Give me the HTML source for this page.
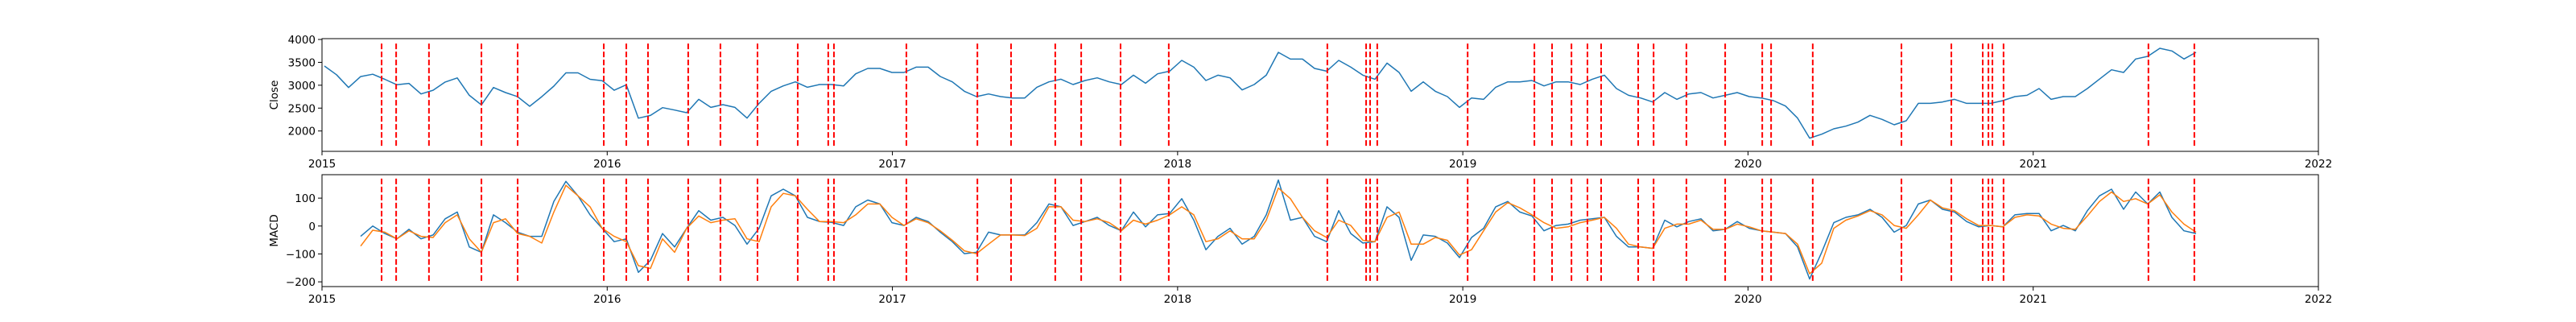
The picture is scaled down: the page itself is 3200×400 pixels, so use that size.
<!DOCTYPE html>
<html><head><meta charset="utf-8">
<style>
html,body{margin:0;padding:0;background:#fff;}
svg{display:block;font-family:"DejaVu Sans","Liberation Sans",sans-serif;}
</style></head>
<body>
<svg id="fig" width="3200" height="400" viewBox="0 0 3200 400" xmlns="http://www.w3.org/2000/svg"></svg>
<script>
// ---- data ----
const startYear = 2015.0085;
const stepYears = 0.042338;
const closeValues = [3420,3230,2950,3190,3240,3130,3010,3040,2810,2890,3070,3160,2780,2570,2950,2840,2750,2540,2750,2980,3270,3270,3130,3100,2890,3010,2280,2340,2510,
2458,2399,2692,2516,2575,2516,2282,2604,2868,2986,3074,2956,3015,3015,2986,3250,3367,3367,3279,3279,3396,3396,3191,3074,2868,2751,2810,2751,2721,
2721,2956,3074,3132,3015,3103,3162,3074,3015,3220,3044,3250,3308,3543,3396,3103,3220,3162,2897,3015,3220,3719,3572,3572,3367,3308,3543,3396,3220,
3132,3484,3279,2868,3074,2868,2751,2516,2721,2692,2956,3074,3074,3103,2986,3074,3074,3015,3132,3220,2927,2780,2721,2633,2839,2692,2810,2839,2721,
2780,2839,2751,2721,2663,2545,2282,1843,1930,2047,2106,2194,2341,2253,2135,2223,2604,2604,2633,2692,2604,2604,2604,2663,2751,2780,2927,2692,2751,
2751,2927,3133,3338,3279,3573,3631,3807,3748,3573,3719];
const macdValues = [null,null,null,-37,0,-27,-46,-12,-46,-32,26,50,-75,-94,40,12,-22,-37,-37,88,160,108,40,-8,-56,-46,-166,-123,-27,
-75,-8,55,21,31,2,-65,-8,108,132,108,31,16,13,2,69,93,79,12,2,31,16,-22,-56,-99,-94,-22,-32,-32,
-32,12,79,69,2,16,31,2,-17,50,-3,40,45,98,21,-85,-37,-8,-65,-37,40,165,21,31,-37,-56,55,-27,-61,
-56,69,31,-123,-32,-37,-61,-113,-41,-8,69,88,50,36,-17,2,7,21,26,31,-37,-75,-75,-80,21,-3,16,26,-17,
-12,16,-8,-17,-22,-27,-75,-190,-94,12,31,40,60,31,-22,2,79,93,60,50,16,-3,2,-3,40,45,45,-17,2,
-17,55,108,132,60,122,79,122,31,-17,-27];
const signalValues = [null,null,null,-72,-15,-22,-46,-17,-37,-41,12,40,-46,-94,12,26,-27,-37,-61,50,146,108,69,-8,-37,-56,-142,-152,-46,
-94,-8,36,12,21,26,-46,-56,69,117,108,60,16,16,12,40,79,79,31,2,26,12,-17,-51,-89,-99,-65,-32,-32,
-34,-8,69,69,21,16,26,12,-17,21,7,21,40,69,40,-56,-46,-17,-46,-46,21,136,98,31,-17,-41,21,2,-51,
-56,31,50,-65,-65,-41,-51,-104,-85,-17,50,84,65,40,12,-8,-3,12,21,31,-8,-65,-75,-80,-8,7,7,21,-12,
-12,7,-3,-17,-22,-27,-65,-171,-133,-8,21,36,55,40,2,-8,40,93,65,55,26,2,2,-3,31,40,36,7,-8,
-12,36,88,122,88,98,79,112,50,7,-22];
const signalYears = [2015.209,2015.260,2015.375,2015.559,2015.686,2015.988,2016.067,2016.143,2016.284,2016.397,2016.527,2016.668,2016.775,2016.795,2017.049,2017.298,2017.416,2017.571,2017.662,2017.800,2017.969,2018.525,2018.661,2018.675,2018.700,2019.017,2019.251,2019.313,2019.381,2019.437,2019.485,2019.615,2019.669,2019.784,2019.920,2020.050,2020.081,2020.227,2020.538,2020.713,2020.823,2020.843,2020.857,2020.896,2021.404,2021.565];
const xTickYears = [2015,2016,2017,2018,2019,2020,2021,2022];
const closeTicks = [2000,2500,3000,3500,4000];
const macdTicks = [-200,-100,0,100];

// ---- layout ----
const X0=400, X1=2880;
const xYear = y => X0 + (y-2015)/(2022-2015)*(X1-X0);
const axTop = {y0:48, y1:188, min:1555, max:4018};
const axBot = {y0:217, y1:356, min:-217, max:184};
const yOf = (ax,v) => ax.y1 - (v-ax.min)/(ax.max-ax.min)*(ax.y1-ax.y0);
const NS="http://www.w3.org/2000/svg";
const svgEl=document.getElementById('fig');
function mk(tag, attrs, parent){const e=document.createElementNS(NS,tag);for(const k in attrs)e.setAttribute(k,attrs[k]);(parent||svgEl).appendChild(e);return e;}

function drawAxes(ax, ticks, ylabel, prefix, series, vlineMin, vlineMax){
  const g=mk('g',{});
  
  
  const cid=prefix+'-clip';
  const cp=mk('clipPath',{id:cid},g); mk('rect',{x:X0,y:ax.y0,width:X1-X0,height:ax.y1-ax.y0},cp);
  series.forEach(s=>{
    let d='', pen=false;
    s.vals.forEach((v,i)=>{
      if(v===null){pen=false;return;}
      const x=xYear(startYear+i*stepYears), y=yOf(ax,v);
      d+=(pen?'L':'M')+x.toFixed(1)+','+y.toFixed(1); pen=true;
    });
    const p=mk('path',{d:d,fill:'none',stroke:s.color,'stroke-width':1.5,'stroke-linejoin':'round','clip-path':'url(#'+cid+')'},g);
    
    
  });
  signalYears.forEach(yr=>{
    const x=xYear(yr);
    const l=mk('line',{x1:x,x2:x,y1:yOf(ax,vlineMax),y2:yOf(ax,vlineMin),stroke:'#ff0000','stroke-width':2,'stroke-dasharray':'7,3'},g);
    
    
  });
  const fr=mk('rect',{x:X0,y:ax.y0,width:X1-X0,height:ax.y1-ax.y0,fill:'none',stroke:'#000','stroke-width':1},g);
  
  
  ticks.forEach(t=>{
    const y=yOf(ax,t);
    mk('line',{x1:X0-5,x2:X0,y1:y,y2:y,stroke:'#000','stroke-width':1},g);
    const tx=mk('text',{x:X0-8,y:y+5,'text-anchor':'end','font-size':'13.5px',fill:'#000'},g);
    tx.textContent=(t<0?'\u2212'+(-t):String(t));
    
    
  });
  xTickYears.forEach(yr=>{
    const x=xYear(yr);
    mk('line',{x1:x,x2:x,y1:ax.y1,y2:ax.y1+5,stroke:'#000','stroke-width':1},g);
    const tx=mk('text',{x:x,y:ax.y1+20,'text-anchor':'middle','font-size':'13.5px',fill:'#000'},g);
    tx.textContent=String(yr);
    
    
  });
  const cy=(ax.y0+ax.y1)/2;
  const yl=mk('text',{x:0,y:0,transform:'translate(345,'+cy+') rotate(-90)','text-anchor':'middle','font-size':'13.5px',fill:'#000'},g);
  yl.textContent=ylabel;
  
  
}

drawAxes(axTop, closeTicks, 'Close', 'close', [{vals:closeValues,color:'#1f77b4',name:'close-line'}], 1660, 3910);
drawAxes(axBot, macdTicks, 'MACD', 'macd', [{vals:macdValues,color:'#1f77b4',name:'macd-line'},{vals:signalValues,color:'#ff7f0e',name:'signal-line'}], -200, 170);
</script>
</body></html>
